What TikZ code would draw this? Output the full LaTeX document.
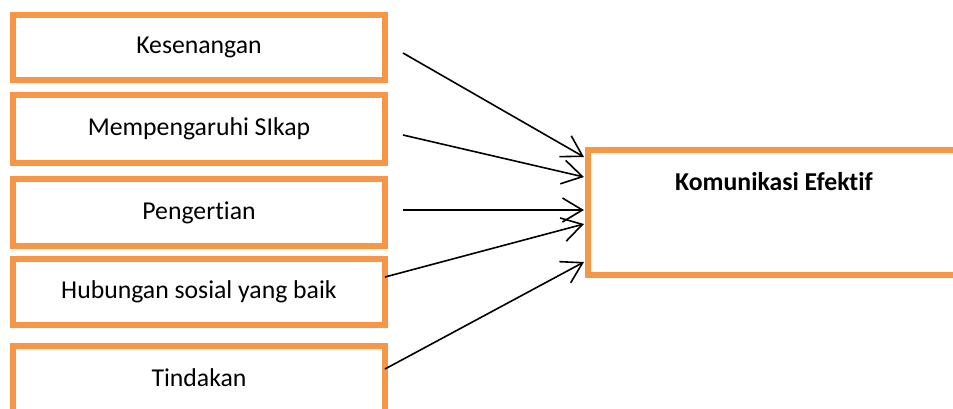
\documentclass[tikz,border=0pt]{standalone}
\usepackage{fontspec}
\setmainfont{Carlito}[RawFeature={-liga;-clig;-dlig}]
\usetikzlibrary{arrows.meta}
\definecolor{boxorange}{HTML}{F79646}
\begin{document}
\begin{tikzpicture}[x=0.75pt,y=-0.75pt,
  factor/.style={draw=boxorange, line width=4.5pt, fill=white,
    minimum width=279pt, minimum height=#1, inner sep=0pt,
    font=\fontsize{19.3}{23}\selectfont},
  factor/.default=49.5pt,
  link/.style={line width=1.2pt, -{Straight Barb[length=15pt,width=18pt,line width=1.2pt]}}]
\useasboundingbox (0,0) rectangle (953,408);
\begin{scope}
\clip (0,0) rectangle (953,408);
% five factor boxes on the left
\node[factor=48.75pt] (b1) at (199,47.5) {Kesenangan};
\node[factor=51pt]    (b2) at (199,128.5) {Mempengaruhi SIkap};
\node[factor=50.25pt] (b3) at (199,212.5) {Pengertian};
\node[factor=49.5pt]  (b4) at (199,292) {Hubungan sosial yang baik};
\node[factor=50pt]    (b5) at (199,379.5) {};
\node[font=\fontsize{19.3}{23}\selectfont] (t5) at (199,378) {Tindakan};
% target box on the right
\node[factor=94pt] (k) at (774,212.5) {};
\node[font=\bfseries\fontsize{19.3}{23}\selectfont] (kt) at (774,182) {Komunikasi Efektif};
\end{scope}
% arrow start and end points
\coordinate (s1) at (403,53);
\coordinate (s2) at (403,135);
\coordinate (s3) at (403,210);
\coordinate (s4) at (385,277);
\coordinate (s5) at (385,369);
\coordinate (e1) at (584,157);
\coordinate (e2) at (584,177);
\coordinate (e3) at (584,210);
\coordinate (e4) at (584,224);
\coordinate (e5) at (584,262);
\draw[link] (s1) -- (e1);
\draw[link] (s2) -- (e2);
\draw[link] (s3) -- (e3);
\draw[link] (s4) -- (e4);
\draw[link] (s5) -- (e5);
\end{tikzpicture}
\end{document}
